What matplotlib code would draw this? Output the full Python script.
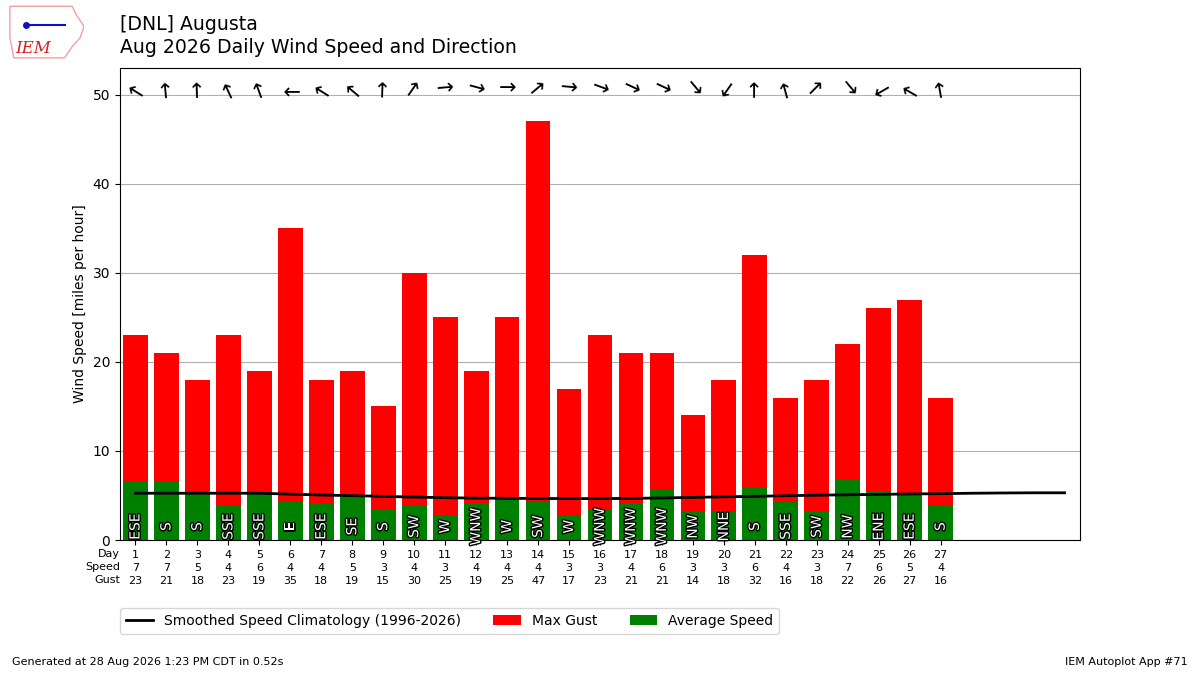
import numpy as np
import matplotlib.pyplot as plt
import matplotlib.patheffects as PathEffects
from matplotlib.patches import Polygon

days = list(range(1, 28))
avg_speed = [6.6, 6.6, 5.5, 3.9, 5.5, 4.4, 4.0, 4.9, 3.4, 3.9, 2.85, 4.0, 4.5, 4.4,
             2.85, 3.45, 4.15, 5.7, 3.26, 3.26, 6.0, 4.3, 3.26, 6.85, 5.5, 5.2, 3.9]
speed_label = [7, 7, 5, 4, 6, 4, 4, 5, 3, 4, 3, 4, 4, 4, 3, 3, 4, 6, 3, 3, 6, 4, 3, 7, 6, 5, 4]
max_gust = [23, 21, 18, 23, 19, 35, 18, 19, 15, 30, 25, 19, 25, 47, 17, 23, 21, 21,
            14, 18, 32, 16, 18, 22, 26, 27, 16]
drct_txt = ["ESE", "S", "S", "SSE", "SSE", "E", "ESE", "SE", "S", "SW", "W", "WNW", "W",
            "SW", "W", "WNW", "WNW", "WNW", "NW", "NNE", "S", "SSE", "SW", "NW", "ENE",
            "ESE", "S"]
# vector average direction (degrees, wind from)
drct = [122, 175, 178, 155, 160, 90, 122, 130, 182, 215, 265, 285, 270, 230, 275, 290,
        295, 295, 320, 35, 180, 165, 225, 320, 60, 120, 170]
clim_days = list(range(1, 32))
clim_speed = [5.25, 5.25, 5.25, 5.25, 5.25, 5.15, 5.05, 4.98, 4.9, 4.82, 4.75, 4.7,
              4.68, 4.66, 4.65, 4.65, 4.67, 4.72, 4.78, 4.85, 4.9, 4.97, 5.03, 5.08,
              5.12, 5.17, 5.2, 5.25, 5.28, 5.3, 5.3]

fig = plt.figure(figsize=(12, 6.75), dpi=100)
ax = fig.add_axes([0.1, 0.2, 0.8, 0.6993])

ax.bar(days, max_gust, width=0.8, color="r", label="Max Gust", zorder=2)
ax.bar(days, avg_speed, width=0.8, color="g", label="Average Speed", zorder=2)
ax.plot(clim_days, clim_speed, color="k", lw=2, zorder=3,
        label="Smoothed Speed Climatology (1996-2026)")

for d, txt in zip(days, drct_txt):
    t = ax.text(d, 1.5, txt, rotation=90, ha="center", va="center", color="white",
                fontsize=10, zorder=4)
    t.set_path_effects([PathEffects.withStroke(linewidth=2, foreground="k")])

for d, dr in zip(days, drct):
    ax.text(d, 50.7, "\u2192", rotation=-90 - dr, rotation_mode="anchor",
            ha="center", va="center", fontsize=15, zorder=4)

ax.set_xlim(0.5, 31.5)
ax.set_ylim(0, 53)
ax.set_yticks(range(0, 51, 10))
ax.yaxis.grid(True, zorder=0)
ax.set_axisbelow(True)
ax.set_xticks(days)
ax.set_xticklabels([f"{d}\n{s}\n{g}" for d, s, g in zip(days, speed_label, max_gust)],
                   fontsize=8, linespacing=1.4)
ax.text(0.5, -1.0, "Day\nSpeed\nGust", transform=ax.transData, ha="right", va="top",
        fontsize=8, linespacing=1.4)
ax.set_ylabel("Wind Speed [miles per hour]")
ax.legend(loc="upper left", bbox_to_anchor=(0, -0.145), ncol=3, borderaxespad=0,
          columnspacing=2.3)

fig.text(0.1, 0.963, "[DNL] Augusta", fontsize=13.6, va="center")
fig.text(0.1, 0.929, "Aug 2026 Daily Wind Speed and Direction", fontsize=13.6, va="center")

# rough logo
logo = fig.add_axes([0.005, 0.91, 0.065, 0.085])
logo.axis("off")
logo.add_patch(Polygon([[0.05, 0.95], [0.85, 0.95], [0.9, 0.8], [1.0, 0.6], [0.95, 0.4],
                        [0.85, 0.25], [0.75, 0.05], [0.1, 0.05], [0.05, 0.4]],
                       closed=True, fill=False, edgecolor="#f4a0a0", lw=1))
logo.text(0.35, 0.22, "IEM", color="#d42020", fontsize=12, style="italic",
          family="serif", ha="center", va="center")
logo.plot([0.25, 0.75], [0.62, 0.62], color="#1010c0", lw=1.5)
logo.plot([0.25], [0.62], "o", color="#1010c0", ms=4)
logo.set_xlim(0, 1)
logo.set_ylim(0, 1)

fig.text(0.01, 0.015, "Generated at 28 Aug 2026 1:23 PM CDT in 0.52s", fontsize=8)
fig.text(0.99, 0.015, "IEM Autoplot App #71", fontsize=8, ha="right")

fig.savefig("out.png", dpi=100)
